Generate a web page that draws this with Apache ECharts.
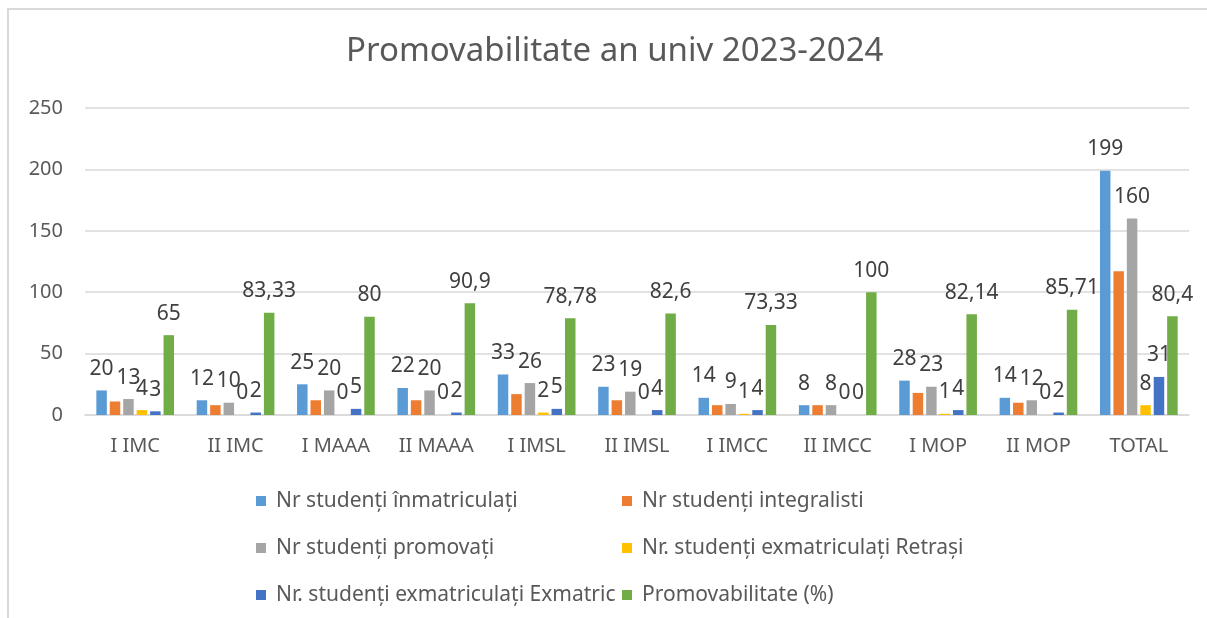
<!DOCTYPE html>
<html>
<head>
<meta charset="utf-8">
<title>Promovabilitate an univ 2023-2024</title>
<script src="https://cdn.jsdelivr.net/npm/echarts@6/dist/echarts.min.js"></script>
<style>
  html, body { margin: 0; padding: 0; background: #fff; }
  #wrap { position: relative; width: 1207px; height: 618px; }
  #frame {
    position: absolute; left: 7px; top: 8px; width: 1200px; height: 610px;
    border-left: 2px solid #d9d9d9; border-top: 2px solid #d9d9d9;
    box-sizing: border-box; pointer-events: none;
  }
  #chart { position: absolute; left: 0; top: 0; width: 1207px; height: 618px; }
</style>
</head>
<body>
<div id="wrap">
  <div id="chart"></div>
  <div id="frame"></div>
</div>
<script>
// categorii
const programe = ['I IMC', 'II IMC', 'I MAAA', 'II MAAA', 'I IMSL', 'II IMSL', 'I IMCC', 'II IMCC', 'I MOP', 'II MOP', 'TOTAL']

const inmatriculati = [20, 12, 25, 22, 33, 23, 14, 8, 28, 14, 199]
const integralisti = [11, 8, 12, 12, 17, 12, 8, 8, 18, 10, 117]
const promovati = [13, 10, 20, 20, 26, 19, 9, 8, 23, 12, 160]
const retrasi = [4, 0, 0, 0, 2, 0, 1, 0, 1, 0, 8]
const exmatriculati = [3, 2, 5, 2, 5, 4, 4, 0, 4, 2, 31]
const promovabilitate = [65, 83.33, 80, 90.9, 78.78, 82.6, 73.33, 100, 82.14, 85.71, 80.4]

const yTicks = [0, 50, 100, 150, 200, 250]

const numeSerii = [
  'Nr studenți înmatriculați',
  'Nr studenți integralisti',
  'Nr studenți promovați',
  'Nr. studenți exmatriculați Retrași',
  'Nr. studenți exmatriculați Exmatric',
  'Promovabilitate (%)'
]
const culori = ['#5b9bd5', '#ed7d31', '#a5a5a5', '#ffc000', '#4472c4', '#70ad47']
const valori = [inmatriculati, integralisti, promovati, retrasi, exmatriculati, promovabilitate]

const font = '"Noto Sans", "Open Sans", sans-serif'

const chart = echarts.init(document.getElementById('chart'))

// legenda pe doua coloane, cate un component pentru fiecare intrare
const legendPos = [
  { left: 256, top: 490 }, { left: 622, top: 490 },
  { left: 256, top: 537 }, { left: 622, top: 537 },
  { left: 256, top: 584 }, { left: 622, top: 584 }
]
const legend = numeSerii.map((name, i) => ({
  data: [name],
  left: legendPos[i].left,
  top: legendPos[i].top,
  padding: 0,
  icon: 'rect',
  itemWidth: 10,
  itemHeight: 10,
  selectedMode: false,
  textStyle: {
    color: '#595959',
    fontSize: 21,
    lineHeight: 22,
    fontFamily: font,
    padding: [0, 0, 0, 5]
  }
}))

const series = numeSerii.map((name, i) => ({
  name: name,
  type: 'bar',
  data: valori[i],
  barWidth: 10.5,
  barGap: '28%',
  itemStyle: { color: culori[i] },
  label: {
    show: i !== 1, // integralistii nu au etichete
    position: 'top',
    distance: 11,
    color: '#404040',
    fontSize: 21,
    fontFamily: font,
    formatter: p => String(p.value).replace('.', ',')
  }
}))

const option = {
  animation: false,
  title: {
    text: 'Promovabilitate an univ 2023-2024',
    left: 346,
    top: 35,
    padding: 0,
    textStyle: { color: '#595959', fontSize: 33, fontWeight: 'normal', fontFamily: font }
  },
  legend: legend,
  grid: { left: 85, right: 18, top: 108, bottom: 203 },
  xAxis: {
    type: 'category',
    data: programe,
    axisLine: { lineStyle: { color: '#d9d9d9', width: 1.5 } },
    axisTick: { show: false },
    axisLabel: { color: '#595959', fontSize: 20, fontFamily: font, margin: 21 }
  },
  yAxis: {
    type: 'value',
    min: yTicks[0],
    max: yTicks[yTicks.length - 1],
    interval: yTicks[1] - yTicks[0],
    axisLine: { show: false },
    axisTick: { show: false },
    axisLabel: { color: '#595959', fontSize: 20, fontFamily: font, margin: 22 },
    splitLine: { lineStyle: { color: '#d9d9d9', width: 1.5 } }
  },
  series: series
}

chart.setOption(option)
</script>
</body>
</html>
